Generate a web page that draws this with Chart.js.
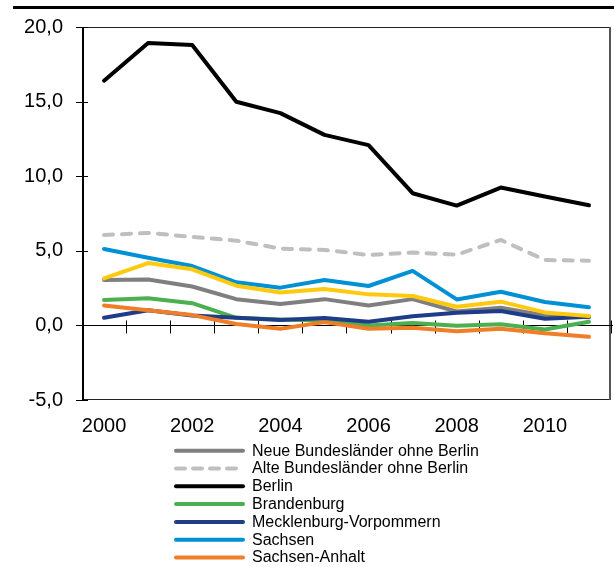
<!DOCTYPE html>
<html>
<head>
<meta charset="utf-8">
<script src="https://cdn.jsdelivr.net/npm/chart.js@4/dist/chart.umd.min.js"></script>
<style>
  html, body { margin: 0; padding: 0; background: #fff; }
  #wrap { width: 614px; height: 567px; }
</style>
</head>
<body>
<div id="wrap"><canvas id="c" width="614" height="567"></canvas></div>
<script>
// Jahre (Kategorien)
const years = ['2000','2001','2002','2003','2004','2005','2006','2007','2008','2009','2010','2011'];
// Beschriftete Jahre auf der x-Achse
const yearLabels = ['2000','2002','2004','2006','2008','2010'];
// Werte der y-Achse
const yMin = -5;
const yMax = 20;
const yStep = 5;

// Reihen
const neueLaender   = [3.05, 3.07, 2.61, 1.76, 1.44, 1.76, 1.34, 1.76, 0.93, 1.18, 0.66, 0.55];
const alteLaender   = [6.06, 6.20, 5.93, 5.68, 5.15, 5.06, 4.72, 4.88, 4.74, 5.73, 4.38, 4.34];
const berlin        = [16.40, 18.93, 18.79, 14.99, 14.23, 12.77, 12.08, 8.86, 8.03, 9.24, 8.64, 8.05];
const brandenburg   = [1.71, 1.82, 1.49, 0.51, 0.40, 0.33, 0.00, 0.16, -0.02, 0.07, -0.27, 0.24];
const mecklenburg   = [0.51, 1.02, 0.67, 0.51, 0.36, 0.49, 0.24, 0.62, 0.84, 0.96, 0.44, 0.58];
const sachsen       = [5.12, 4.54, 3.98, 2.89, 2.53, 3.04, 2.64, 3.65, 1.74, 2.26, 1.57, 1.21];
const sachsenAnhalt = [1.33, 1.02, 0.69, 0.09, -0.22, 0.22, -0.22, -0.16, -0.40, -0.22, -0.53, -0.76];
const thueringen    = [3.15, 4.18, 3.76, 2.66, 2.21, 2.44, 2.08, 1.97, 1.25, 1.59, 0.87, 0.63];

const seriesNames = [
  'Neue Bundesländer ohne Berlin',
  'Alte Bundesländer ohne Berlin',
  'Berlin',
  'Brandenburg',
  'Mecklenburg-Vorpommern',
  'Sachsen',
  'Sachsen-Anhalt',
  'Thüringen'
];
const seriesValues = [neueLaender, alteLaender, berlin, brandenburg, mecklenburg, sachsen, sachsenAnhalt, thueringen];
const seriesColors = ['#7f7f7f', '#bfbfbf', '#000000', '#4caf50', '#1f3c88', '#0091d5', '#f07d28', '#ffc90e'];
const seriesDash   = [[], [9, 9], [], [], [], [], [], []];

const FONT = '"Liberation Sans", Arial, sans-serif';

const datasets = seriesValues.map((vals, i) => ({
  label: seriesNames[i],
  data: vals,
  borderColor: seriesColors[i],
  backgroundColor: seriesColors[i],
  borderWidth: 4,
  borderDash: seriesDash[i],
  borderCapStyle: 'round',
  borderJoinStyle: 'round',
  pointRadius: 0,
  tension: 0,
  fill: false,
  // spätere Reihen liegen oben
  order: seriesValues.length - i
}));

// Rahmen, Nulllinie und Teilstriche unter den Linien
const frame = {
  id: 'frame',
  beforeDatasetsDraw(chart) {
    const { ctx, chartArea: a, scales: { x, y } } = chart;
    ctx.save();
    // Plotrahmen
    ctx.strokeStyle = '#222';
    ctx.lineWidth = 1;
    ctx.strokeRect(a.left + 0.5, a.top + 0.5, a.right - a.left - 1, a.bottom - a.top - 1);
    ctx.strokeStyle = '#555';
    ctx.lineWidth = 2;
    ctx.beginPath();
    ctx.moveTo(a.right - 1, a.top);
    ctx.lineTo(a.right - 1, a.bottom);
    ctx.stroke();
    // y-Achse
    ctx.strokeStyle = '#000';
    ctx.lineWidth = 2;
    ctx.beginPath();
    ctx.moveTo(a.left + 1, a.top);
    ctx.lineTo(a.left + 1, a.bottom);
    ctx.stroke();
    // Teilstriche der y-Achse
    ctx.lineWidth = 1;
    for (let v = yMin; v <= yMax; v += yStep) {
      const py = Math.round(y.getPixelForValue(v)) + 0.5;
      ctx.beginPath();
      ctx.moveTo(a.left - 6, py);
      ctx.lineTo(a.left + 6, py);
      ctx.stroke();
    }
    // Nulllinie mit Teilstrichen zwischen den Jahren
    const y0 = Math.round(y.getPixelForValue(0)) + 0.5;
    ctx.beginPath();
    ctx.moveTo(a.left, y0);
    ctx.lineTo(a.right + 2, y0);
    ctx.stroke();
    const half = (x.getPixelForValue(1) - x.getPixelForValue(0)) / 2;
    for (let i = 0; i <= years.length; i++) {
      const px = (i < years.length)
        ? x.getPixelForValue(i) - half
        : x.getPixelForValue(years.length - 1) + half;
      const rx = Math.round(px) + 0.5;
      ctx.beginPath();
      ctx.moveTo(rx, y0 - 5);
      ctx.lineTo(rx, y0 + 8);
      ctx.stroke();
    }
    ctx.restore();
  },
  afterDraw(chart) {
    const { ctx } = chart;
    ctx.save();
    // Linie oben
    ctx.strokeStyle = '#000';
    ctx.lineWidth = 3;
    ctx.beginPath();
    ctx.moveTo(13, 7.5);
    ctx.lineTo(614, 7.5);
    ctx.stroke();
    // Legende
    ctx.font = '16px ' + FONT;
    ctx.textBaseline = 'middle';
    ctx.textAlign = 'left';
    chart.data.datasets.forEach((ds, i) => {
      const cy = 450.7 + i * 17.8;
      ctx.strokeStyle = ds.borderColor;
      ctx.lineWidth = 4;
      ctx.lineCap = 'round';
      ctx.setLineDash(ds.borderDash.length ? [9, 8] : []);
      ctx.beginPath();
      ctx.moveTo(176, cy);
      ctx.lineTo(243, cy);
      ctx.stroke();
      ctx.setLineDash([]);
      ctx.fillStyle = '#000';
      ctx.fillText(ds.label, 252, cy + 0.5);
    });
    ctx.restore();
  }
};

new Chart(document.getElementById('c'), {
  type: 'line',
  data: { labels: years, datasets },
  options: {
    responsive: false,
    animation: false,
    devicePixelRatio: 1,
    layout: { padding: { top: 27, right: 3, bottom: 127, left: 0 } },
    plugins: { legend: { display: false }, tooltip: { enabled: false } },
    scales: {
      x: {
        type: 'category',
        offset: true,
        grid: { display: false, drawTicks: false },
        border: { display: false },
        ticks: {
          autoSkip: false,
          maxRotation: 0,
          padding: 14,
          color: '#000',
          font: { family: FONT, size: 20 },
          callback: (v, i) => yearLabels.includes(years[i]) ? years[i] : ''
        },
        afterFit(s) { s.height = 40; s.paddingLeft = 0; s.paddingRight = 0; }
      },
      y: {
        min: yMin,
        max: yMax,
        grid: { display: false, drawTicks: false },
        border: { display: false },
        ticks: {
          stepSize: yStep,
          padding: 19,
          color: '#000',
          font: { family: FONT, size: 20 },
          callback: v => v.toFixed(1).replace('.', ',')
        },
        afterFit(s) { s.width = 82; s.paddingTop = 0; s.paddingBottom = 0; }
      }
    }
  },
  plugins: [frame]
});
</script>
</body>
</html>
